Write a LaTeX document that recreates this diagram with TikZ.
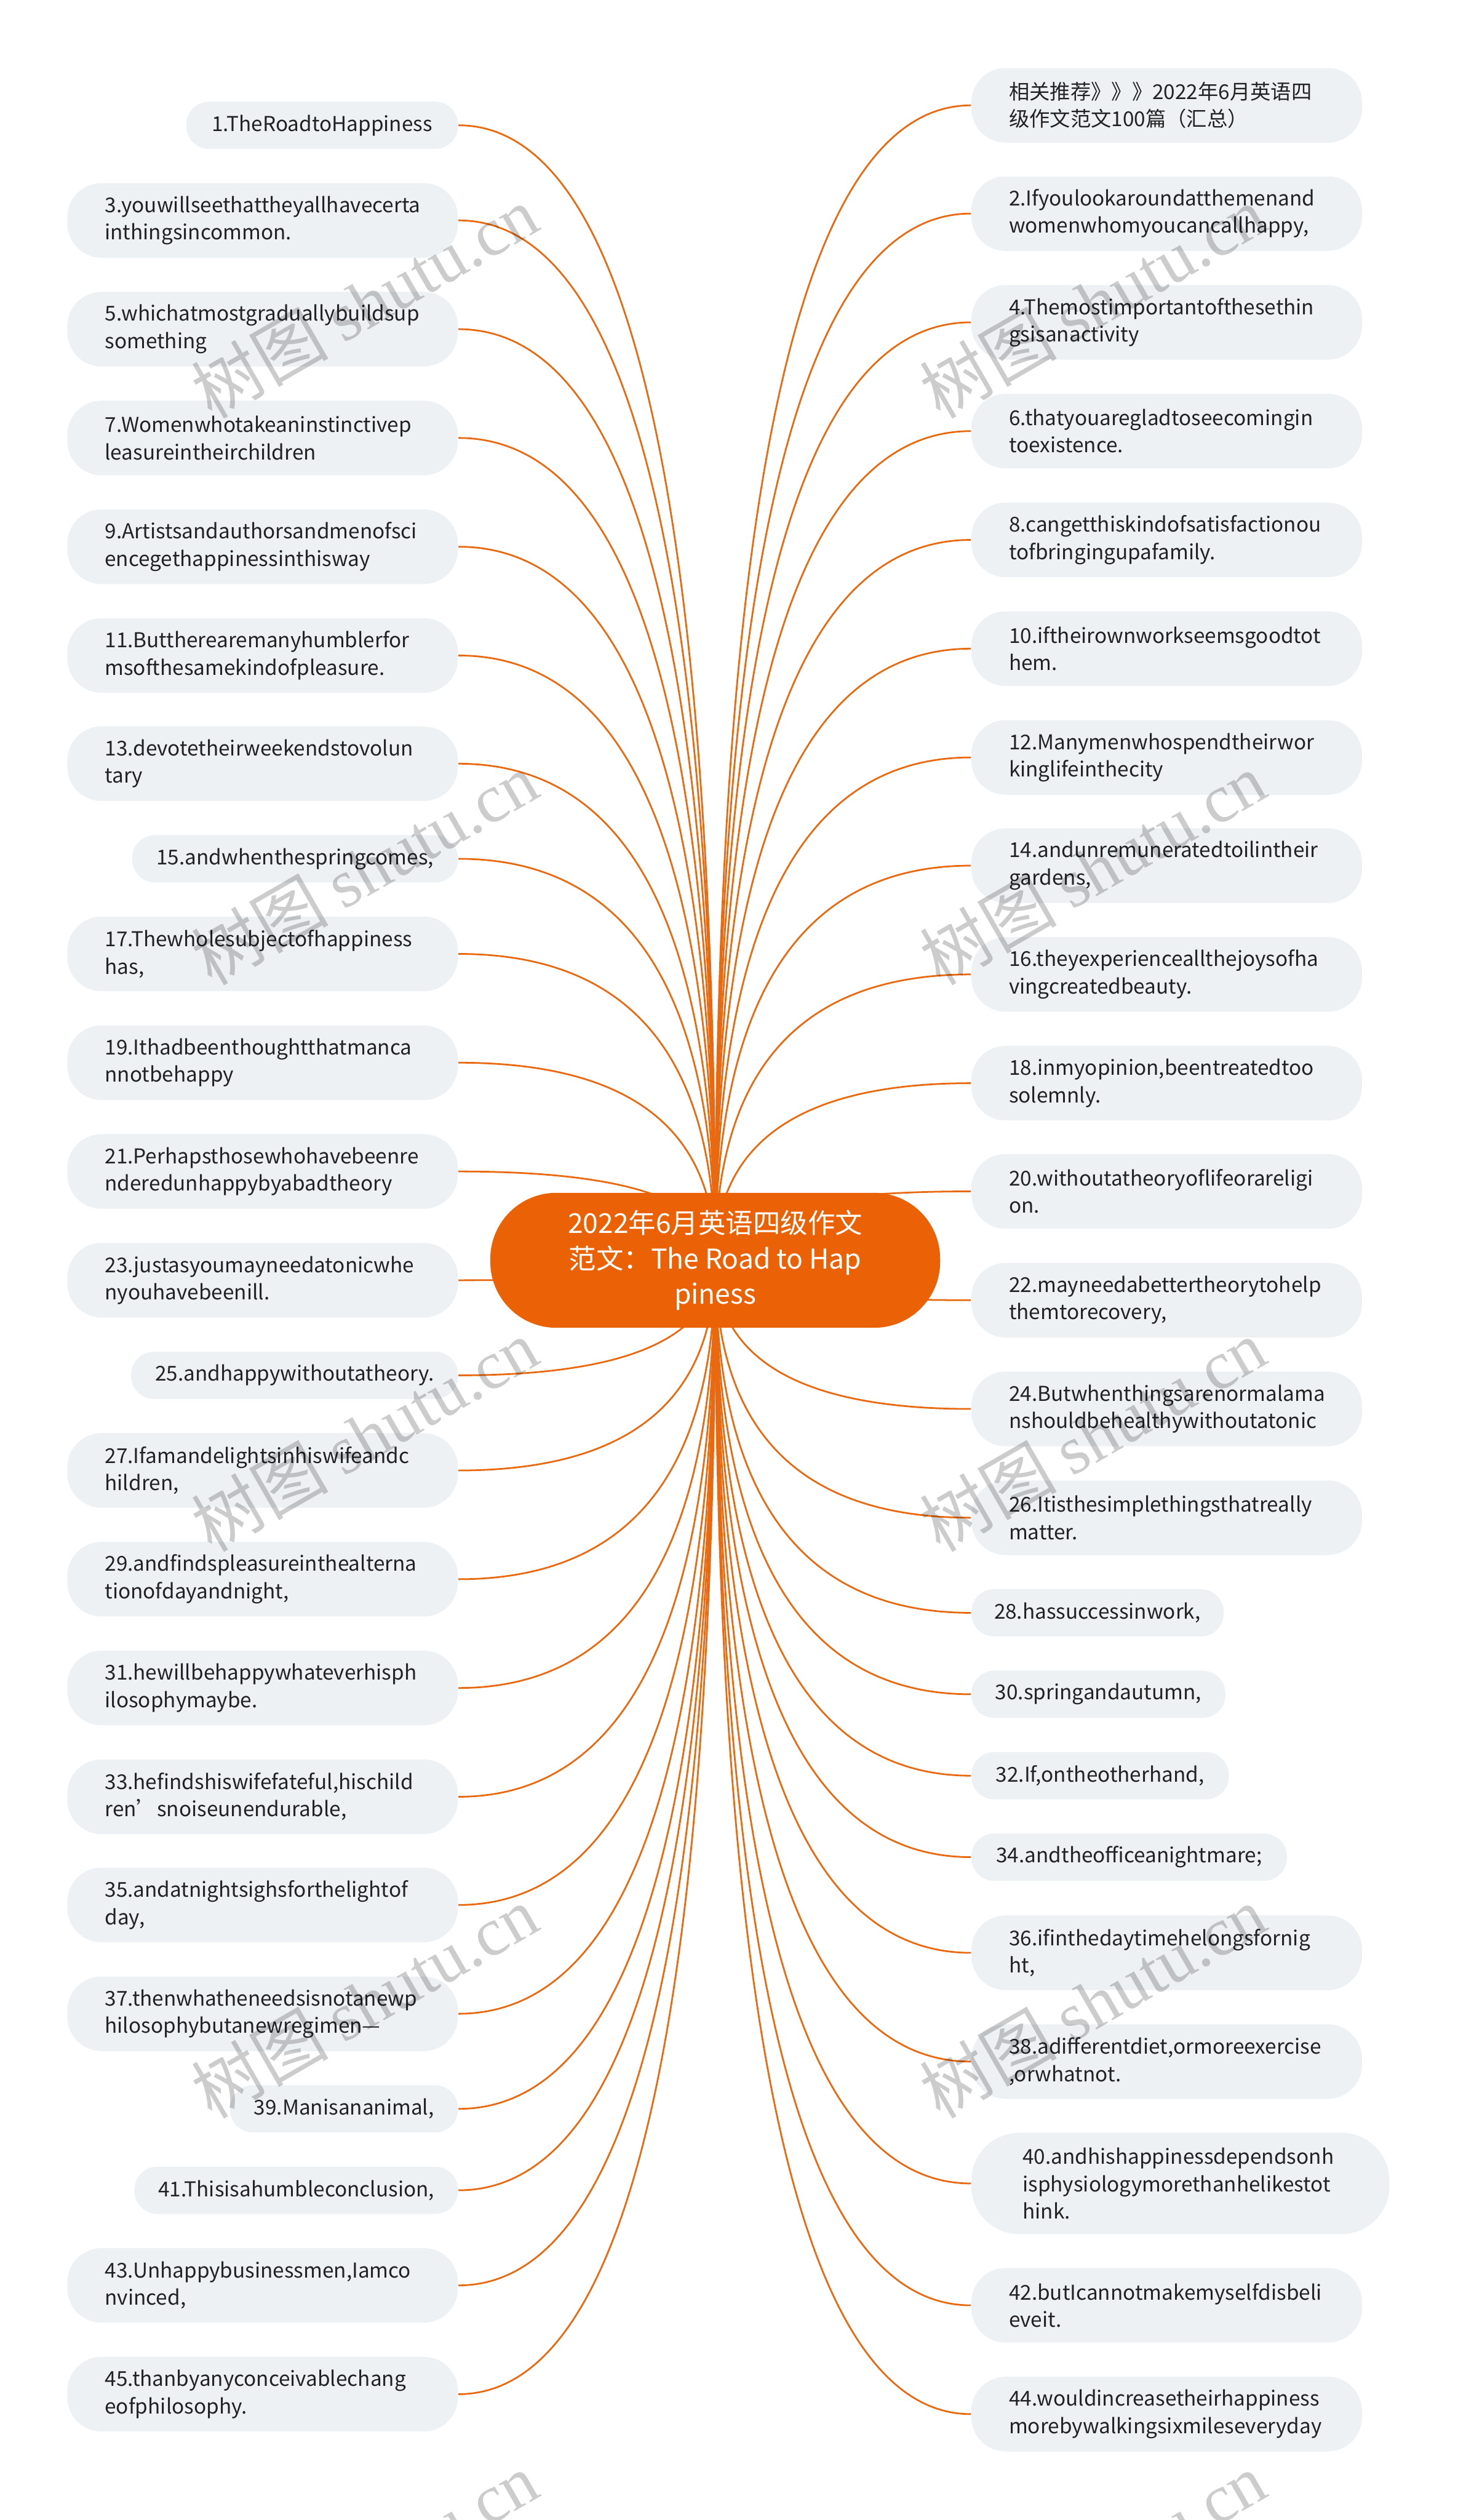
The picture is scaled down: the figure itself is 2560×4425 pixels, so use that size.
\documentclass[tikz,border=0pt]{standalone}
\usepackage{fontspec}
\setmainfont{Noto Sans CJK SC}
\newfontfamily\wmlatin{Liberation Serif}
\usetikzlibrary{backgrounds,calc}
\definecolor{linec}{HTML}{E8690F}
\definecolor{rootfill}{HTML}{EB6206}
\definecolor{leaffill}{HTML}{EEF1F4}
\definecolor{txtc}{HTML}{222222}
\begin{document}
\begin{tikzpicture}[x=0.25pt,y=-0.25pt,
  leaf/.style={fill=leaffill, text=txtc, font=\fontsize{9pt}{12pt}\selectfont, inner ysep=0pt},
  two/.style={leaf, text width=138.5pt, align=left, inner xsep=16.5pt, minimum height=32.75pt, rounded corners=15pt},
  three/.style={leaf, text width=138.5pt, align=left, inner xsep=22.5pt, minimum height=44.5pt, rounded corners=21pt},
  one/.style={leaf, align=center, inner xsep=0pt, minimum height=20.75pt, rounded corners=10pt},
  lft/.style={anchor=east},
  rgt/.style={anchor=west},
  rootnode/.style={fill=rootfill, text=white, font=\fontsize{12pt}{15.5pt}\selectfont, align=center, minimum width=197.5pt, minimum height=59.25pt, rounded corners=29pt, inner sep=0pt},
  conn/.style={draw=linec, line width=0.75pt},
  wm/.style={rotate=30, text=black, opacity=0.2, font=\fontsize{30pt}{30pt}\selectfont}
]
\useasboundingbox (0,0) rectangle (2560,4425);
\begin{scope}[on background layer]
\fill[white] (0,0) rectangle (2560,4425);
\end{scope}

% root
\node[rootnode] (root) at (1256,2213) {2022年6月英语四级作文\\范文：The Road to Hap\\piness};

% left column
\node[one,lft,minimum width=119.25pt] (l1) at (805,220) {1.TheRoadtoHappiness};
\node[two,lft] (l3) at (805,387) {3.youwillseethattheyallhavecerta\\inthingsincommon.};
\node[two,lft] (l5) at (805,578) {5.whichatmostgraduallybuildsup\\something};
\node[two,lft] (l7) at (805,769) {7.Womenwhotakeaninstinctivep\\leasureintheirchildren};
\node[two,lft] (l9) at (805,960) {9.Artistsandauthorsandmenofsci\\encegethappinessinthisway};
\node[two,lft] (l11) at (805,1151) {11.Buttherearemanyhumblerfor\\msofthesamekindofpleasure.};
\node[two,lft] (l13) at (805,1341) {13.devotetheirweekendstovolun\\tary};
\node[one,lft,minimum width=143pt] (l15) at (805,1508) {15.andwhenthespringcomes,};
\node[two,lft] (l17) at (805,1675) {17.Thewholesubjectofhappiness\\has,};
\node[two,lft] (l19) at (805,1866) {19.Ithadbeenthoughtthatmanca\\nnotbehappy};
\node[two,lft] (l21) at (805,2057) {21.Perhapsthosewhohavebeenre\\nderedunhappybyabadtheory};
\node[two,lft] (l23) at (805,2248) {23.justasyoumayneedatonicwhe\\nyouhavebeenill.};
\node[one,lft,minimum width=143.5pt] (l25) at (805,2415) {25.andhappywithoutatheory.};
\node[two,lft] (l27) at (805,2582) {27.Ifamandelightsinhiswifeandc\\hildren,};
\node[two,lft] (l29) at (805,2773) {29.andfindspleasureinthealterna\\tionofdayandnight,};
\node[two,lft] (l31) at (805,2964) {31.hewillbehappywhateverhisph\\ilosophymaybe.};
\node[two,lft] (l33) at (805,3155) {33.hefindshiswifefateful,hischild\\ren’snoiseunendurable,};
\node[two,lft] (l35) at (805,3345) {35.andatnightsighsforthelightof\\day,};
\node[two,lft] (l37) at (805,3536) {37.thenwhatheneedsisnotanewp\\hilosophybutanewregimen—};
\node[one,lft,minimum width=100pt] (l39) at (805,3703) {39.Manisananimal,};
\node[one,lft,minimum width=142pt] (l41) at (805,3846) {41.Thisisahumbleconclusion,};
\node[two,lft] (l43) at (805,4013) {43.Unhappybusinessmen,Iamco\\nvinced,};
\node[two,lft] (l45) at (805,4204) {45.thanbyanyconceivablechang\\eofphilosophy.};

% right column
\node[two,rgt] (r0) at (1705,185) {相关推荐》》》2022年6月英语四\\级作文范文100篇（汇总）};
\node[two,rgt] (r2) at (1705,375) {2.Ifyoulookaroundatthemenand\\womenwhomyoucancallhappy,};
\node[two,rgt] (r4) at (1705,566) {4.Themostimportantofthesethin\\gsisanactivity};
\node[two,rgt] (r6) at (1705,757) {6.thatyouaregladtoseecomingin\\toexistence.};
\node[two,rgt] (r8) at (1705,948) {8.cangetthiskindofsatisfactionou\\tofbringingupafamily.};
\node[two,rgt] (r10) at (1705,1139) {10.iftheirownworkseemsgoodtot\\hem.};
\node[two,rgt] (r12) at (1705,1330) {12.Manymenwhospendtheirwor\\kinglifeinthecity};
\node[two,rgt] (r14) at (1705,1520) {14.andunremuneratedtoilintheir\\gardens,};
\node[two,rgt] (r16) at (1705,1711) {16.theyexperienceallthejoysofha\\vingcreatedbeauty.};
\node[two,rgt] (r18) at (1705,1902) {18.inmyopinion,beentreatedtoo\\solemnly.};
\node[two,rgt] (r20) at (1705,2092) {20.withoutatheoryoflifeorareligi\\on.};
\node[two,rgt] (r22) at (1705,2283) {22.mayneedabettertheorytohelp\\themtorecovery,};
\node[two,rgt] (r24) at (1705,2474) {24.Butwhenthingsarenormalama\\nshouldbehealthywithoutatonic};
\node[two,rgt] (r26) at (1705,2665) {26.Itisthesimplethingsthatreally\\matter.};
\node[one,rgt,minimum width=110.75pt] (r28) at (1705,2832) {28.hassuccessinwork,};
\node[one,rgt,minimum width=111.5pt] (r30) at (1705,2975) {30.springandautumn,};
\node[one,rgt,minimum width=113pt] (r32) at (1705,3118) {32.If,ontheotherhand,};
\node[one,rgt,minimum width=138.5pt] (r34) at (1705,3261) {34.andtheofficeanightmare;};
\node[two,rgt] (r36) at (1705,3429) {36.ifinthedaytimehelongsfornig\\ht,};
\node[two,rgt] (r38) at (1705,3620) {38.adifferentdiet,ormoreexercise\\,orwhatnot.};
\node[three,rgt] (r40) at (1705,3834) {40.andhishappinessdependsonh\\isphysiologymorethanhelikestot\\hink.};
\node[two,rgt] (r42) at (1705,4048) {42.butIcannotmakemyselfdisbeli\\eveit.};
\node[two,rgt] (r44) at (1705,4239) {44.wouldincreasetheirhappiness\\morebywalkingsixmileseveryday};

% connectors (quadratic curves from the root centre)
\begin{scope}[on background layer]
\foreach \n in {l1,l3,l5,l7,l9,l11,l13,l15,l17,l19,l21,l23,l25,l27,l29,l31,l33,l35,l37,l39,l41,l43,l45}{
  \coordinate (k\n) at (root.center |- \n.east);
  \draw[conn] (root.center) .. controls ($(root.center)!0.6667!(k\n)$) and ($(\n.east)!0.6667!(k\n)$) .. (\n.east);
}
\foreach \n in {r0,r2,r4,r6,r8,r10,r12,r14,r16,r18,r20,r22,r24,r26,r28,r30,r32,r34,r36,r38,r40,r42,r44}{
  \coordinate (k\n) at (root.center |- \n.west);
  \draw[conn] (root.center) .. controls ($(root.center)!0.6667!(k\n)$) and ($(\n.west)!0.6667!(k\n)$) .. (\n.west);
}
\end{scope}

% watermarks
\foreach \wy [count=\i] in {530,1525,2520,3515,4510}{
  \node[wm] (wl\i) at (640,\wy) {树图 {\wmlatin shutu.cn}};
  \node[wm] (wr\i) at (1919,\wy) {树图 {\wmlatin shutu.cn}};
}
\end{tikzpicture}
\end{document}
